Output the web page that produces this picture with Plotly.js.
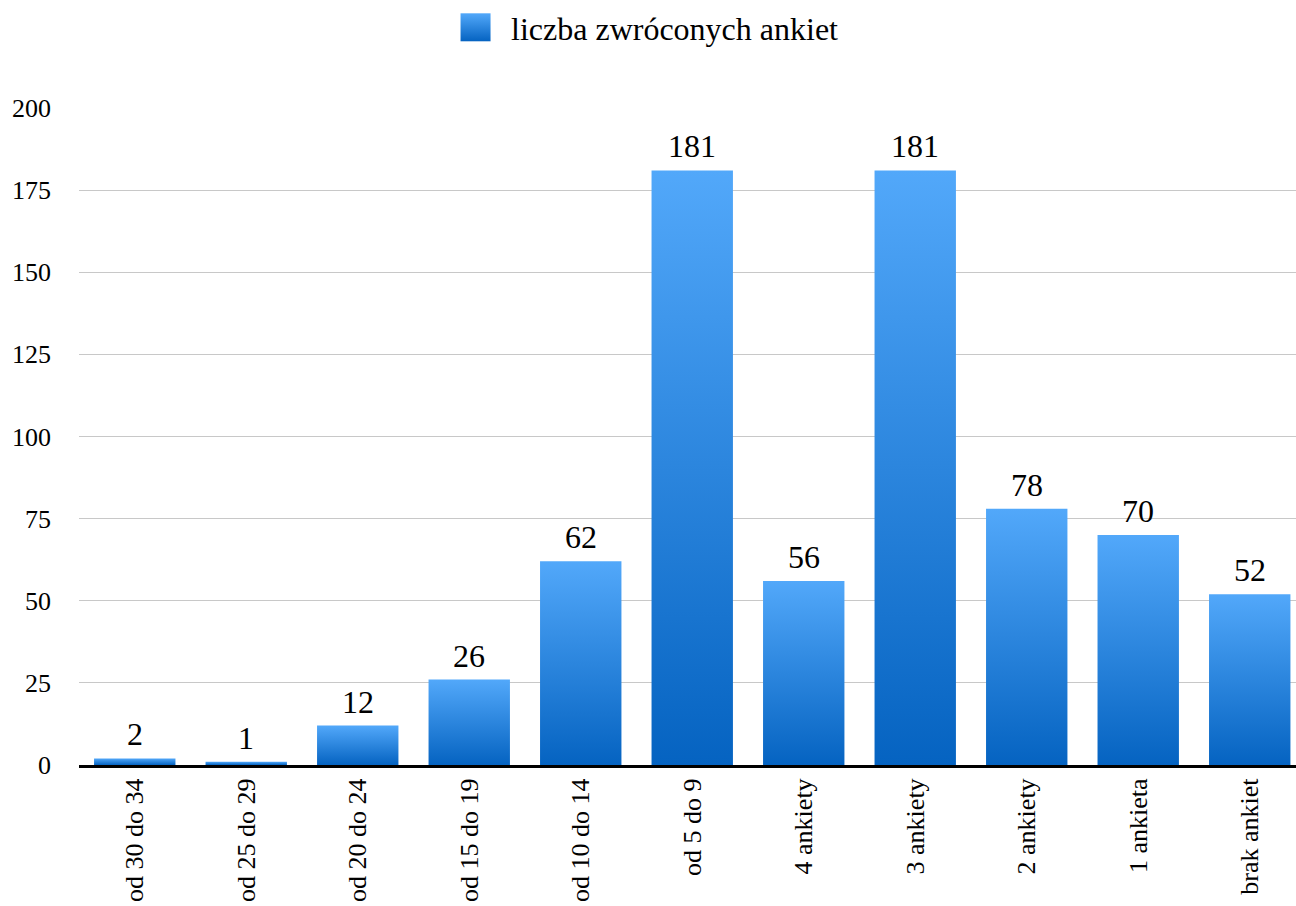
<!DOCTYPE html>
<html>
<head>
<meta charset="utf-8">
<script src="https://cdn.plot.ly/plotly-3.0.1.min.js"></script>
<style>html,body{margin:0;padding:0;background:#fff;}#chart{width:1296px;height:906px;}</style>
</head>
<body>
<div id="chart"></div>
<script>
const categories = ["od 30 do 34", "od 25 do 29", "od 20 do 24", "od 15 do 19", "od 10 do 14", "od 5 do 9", "4 ankiety", "3 ankiety", "2 ankiety", "1 ankieta", "brak ankiet"];
const values = [2, 1, 12, 26, 62, 181, 56, 181, 78, 70, 52];
const seriesName = "liczba zwróconych ankiet";
const yTicks = [0, 25, 50, 75, 100, 125, 150, 175, 200];

const serifFamily = "Liberation Serif";

const trace = {
  type: "bar",
  x: categories,
  y: values,
  name: seriesName,
  marker: { color: "#2a86e0", line: { width: 0 } },
  showlegend: true,
  hoverinfo: "x+y"
};

const annotations = categories.map((c, i) => ({
  x: c, y: values[i], xref: "x", yref: "y",
  text: String(values[i]), showarrow: false,
  yanchor: "bottom", yshift: 4,
  font: { size: 32, color: "#000" }
}));

const layout = {
  width: 1296, height: 906,
  margin: { l: 79, r: 0, t: 108, b: 141, pad: 0 },
  paper_bgcolor: "#fff", plot_bgcolor: "#fff",
  font: { family: serifFamily, color: "#000", size: 26 },
  bargap: 0.27,
  showlegend: true,
  legend: {
    orientation: "h", x: 0.4954, xanchor: "center", xref: "container",
    y: 1, yanchor: "top", yref: "container",
    font: { size: 32, color: "#000" },
    itemwidth: 61
  },
  xaxis: {
    type: "category",
    range: [-0.5, 10.415],
    tickangle: -90,
    tickfont: { size: 26, color: "#000" },
    showline: true, linecolor: "#000", linewidth: 3,
    showgrid: false, ticks: "",
    ticklabelstandoff: 0,
    fixedrange: true
  },
  yaxis: {
    range: [0, 200],
    tickvals: yTicks,
    ticktext: yTicks.map(String),
    tickfont: { size: 26, color: "#000" },
    showgrid: true, gridcolor: "#c8c8c8", gridwidth: 1,
    zeroline: false, showline: false, ticks: "",
    ticklabelstandoff: 27,
    fixedrange: true
  },
  annotations: annotations
};

function applyStyling(gd) {
  const svg = gd.querySelector("svg.main-svg");
  if (!svg) return;
  const ns = "http://www.w3.org/2000/svg";
  let defs = svg.querySelector("defs");
  if (!defs) { defs = document.createElementNS(ns, "defs"); svg.insertBefore(defs, svg.firstChild); }
  if (!svg.querySelector("#barGrad")) {
    const lg = document.createElementNS(ns, "linearGradient");
    lg.setAttribute("id", "barGrad");
    lg.setAttribute("x1", "0"); lg.setAttribute("y1", "0");
    lg.setAttribute("x2", "0"); lg.setAttribute("y2", "1");
    const s1 = document.createElementNS(ns, "stop");
    s1.setAttribute("offset", "0"); s1.setAttribute("stop-color", "#52a8fa");
    const s2 = document.createElementNS(ns, "stop");
    s2.setAttribute("offset", "1"); s2.setAttribute("stop-color", "#0563c1");
    lg.appendChild(s1); lg.appendChild(s2);
    defs.appendChild(lg);
  }
  gd.querySelectorAll(".trace.bars .point path").forEach(p => { p.style.fill = "url(#barGrad)"; });
  gd.querySelectorAll(".legend .legendpoints path").forEach(p => {
    p.setAttribute("d", "M15,14H-15V-14H15Z");
    p.style.fill = "url(#barGrad)";
    p.style.stroke = "none";
  });
}

const gd = document.getElementById("chart");
Plotly.newPlot(gd, [trace], layout, { displayModeBar: false }).then(() => applyStyling(gd));
</script>
</body>
</html>
